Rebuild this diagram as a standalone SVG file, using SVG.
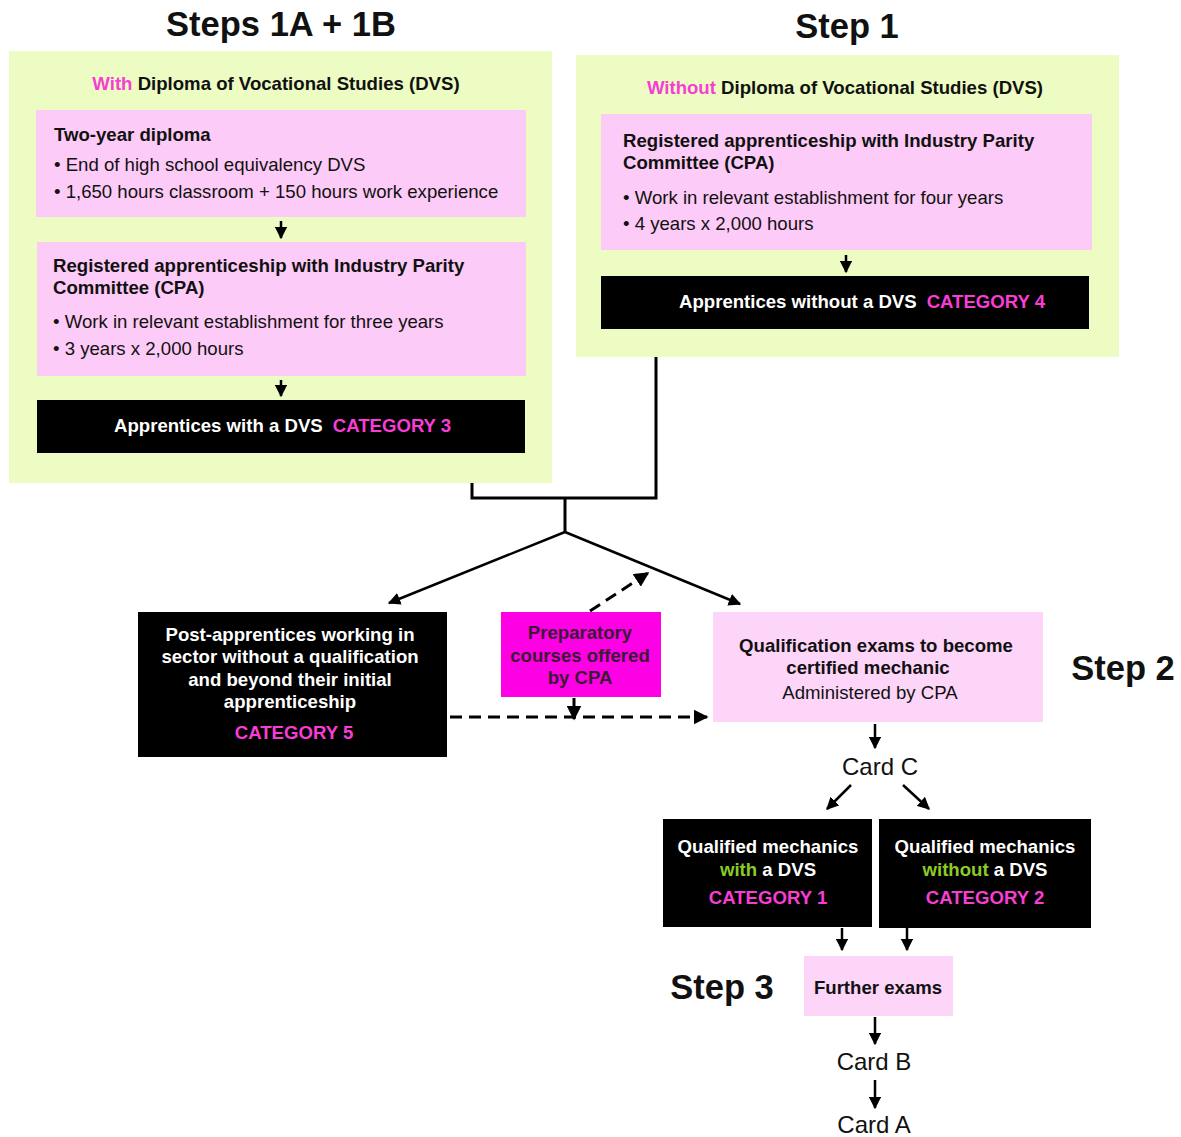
<svg xmlns="http://www.w3.org/2000/svg" width="1181" height="1137" viewBox="0 0 1181 1137">
<style>
text{font-family:"Liberation Sans",Arial,sans-serif;fill:#111}
.b{font-weight:bold}
.t{font-size:34.5px;font-weight:bold}
.m{font-size:18.6px}
.c{font-size:24px}
.w{fill:#fff}
.mg{fill:#f83dd6}
.gr{fill:#8ccb26}
.green{fill:#ecfcc2}
.pink{fill:#fdcbf7}
.pink2{fill:#fdd5f8}
.blk{fill:#000}
.ln{stroke:#000;stroke-width:2.5;fill:none}
.dl{stroke:#000;stroke-width:3;fill:none;stroke-dasharray:12 7}
</style>
<defs>
<marker id="ah" viewBox="0 0 10 10" refX="9" refY="5" markerWidth="5" markerHeight="5" orient="auto" markerUnits="strokeWidth"><path d="M0,0L10,5L0,10z" fill="#000"/></marker>
</defs>
<rect width="1181" height="1137" fill="#fff"/>
<text class="t" x="281" y="36" text-anchor="middle">Steps 1A + 1B</text>
<text class="t" x="847" y="38" text-anchor="middle">Step 1</text>
<text class="t" x="1123" y="680" text-anchor="middle">Step 2</text>
<text class="t" x="722" y="999" text-anchor="middle">Step 3</text>

<g id="left-group">
<rect class="green" x="9" y="51" width="543" height="432"/>
<text class="m b" x="276" y="90" text-anchor="middle"><tspan class="mg">With</tspan> Diploma of Vocational Studies (DVS)</text>
</g>
<g id="two-year">
<rect class="pink" x="36" y="110" width="490" height="107"/>
<text class="m b" x="54" y="141">Two-year diploma</text>
<text class="m" x="54" y="171">• End of high school equivalency DVS</text>
<text class="m" x="54" y="198">• 1,650 hours classroom + 150 hours work experience</text>
</g>
<g id="cpa-left">
<rect class="pink" x="37" y="242" width="489" height="134"/>
<text class="m b" x="53" y="272">Registered apprenticeship with Industry Parity</text>
<text class="m b" x="53" y="294">Committee (CPA)</text>
<text class="m" x="53" y="328">• Work in relevant establishment for three years</text>
<text class="m" x="53" y="355">• 3 years x 2,000 hours</text>
</g>
<g id="cat3">
<rect class="blk" x="37" y="400" width="488" height="53"/>
<text class="m b w" x="114" y="432">Apprentices with a DVS<tspan class="mg" dx="10">CATEGORY 3</tspan></text>
</g>

<g id="right-group">
<rect class="green" x="576" y="55" width="543" height="302"/>
<text class="m b" x="845" y="94" text-anchor="middle"><tspan class="mg">Without</tspan> Diploma of Vocational Studies (DVS)</text>
</g>
<g id="cpa-right">
<rect class="pink" x="601" y="114" width="491" height="136"/>
<text class="m b" x="623" y="147">Registered apprenticeship with Industry Parity</text>
<text class="m b" x="623" y="169">Committee (CPA)</text>
<text class="m" x="623" y="204">• Work in relevant establishment for four years</text>
<text class="m" x="623" y="230">• 4 years x 2,000 hours</text>
</g>
<g id="cat4">
<rect class="blk" x="601" y="276" width="488" height="53"/>
<text class="m b w" x="679" y="308">Apprentices without a DVS<tspan class="mg" dx="10">CATEGORY 4</tspan></text>
</g>

<g id="cat5">
<rect class="blk" x="138" y="612" width="309" height="145"/>
<text class="m b w" x="290" y="641" text-anchor="middle">Post-apprentices working in</text>
<text class="m b w" x="290" y="663" text-anchor="middle">sector without a qualification</text>
<text class="m b w" x="290" y="686" text-anchor="middle">and beyond their initial</text>
<text class="m b w" x="290" y="708" text-anchor="middle">apprenticeship</text>
<text class="m b mg" x="294" y="739" text-anchor="middle">CATEGORY 5</text>
</g>
<g id="prep">
<rect x="501" y="612" width="160" height="85" fill="#fe00e4"/>
<text class="m b" x="580" y="639" text-anchor="middle" style="fill:#3a1a35">Preparatory</text>
<text class="m b" x="580" y="662" text-anchor="middle" style="fill:#3a1a35">courses offered</text>
<text class="m b" x="580" y="684" text-anchor="middle" style="fill:#3a1a35">by CPA</text>
</g>
<g id="qual">
<rect class="pink2" x="713" y="612" width="330" height="110"/>
<text class="m b" x="876" y="652" text-anchor="middle">Qualification exams to become</text>
<text class="m b" x="868" y="674" text-anchor="middle">certified mechanic</text>
<text class="m" x="870" y="699" text-anchor="middle">Administered by CPA</text>
</g>
<g id="cardc"><text class="c" x="880" y="775" text-anchor="middle">Card C</text></g>
<g id="cat1">
<rect class="blk" x="663" y="819" width="209" height="108"/>
<text class="m b w" x="768" y="853" text-anchor="middle">Qualified mechanics</text>
<text class="m b w" x="768" y="876" text-anchor="middle"><tspan class="gr">with</tspan> a DVS</text>
<text class="m b mg" x="768" y="904" text-anchor="middle">CATEGORY 1</text>
</g>
<g id="cat2">
<rect class="blk" x="879" y="819" width="212" height="109"/>
<text class="m b w" x="985" y="853" text-anchor="middle">Qualified mechanics</text>
<text class="m b w" x="985" y="876" text-anchor="middle"><tspan class="gr">without</tspan> a DVS</text>
<text class="m b mg" x="985" y="904" text-anchor="middle">CATEGORY 2</text>
</g>
<g id="further">
<rect class="pink2" x="804" y="956" width="149" height="60"/>
<text class="m b" x="878" y="994" text-anchor="middle">Further exams</text>
</g>
<g id="cardb"><text class="c" x="874" y="1070" text-anchor="middle">Card B</text></g>
<g id="carda"><text class="c" x="874" y="1133" text-anchor="middle">Card A</text></g>

<g id="connectors">
<line class="ln" x1="281" y1="221" x2="281" y2="238" marker-end="url(#ah)"/>
<line class="ln" x1="281" y1="380" x2="281" y2="396" marker-end="url(#ah)"/>
<line class="ln" x1="846" y1="255" x2="846" y2="272" marker-end="url(#ah)"/>
<path d="M472,483V498H656V357" stroke="#000" stroke-width="3" fill="none"/>
<path d="M565,498V532" stroke="#000" stroke-width="3" fill="none"/>
<line class="ln" x1="565" y1="532" x2="389" y2="603" marker-end="url(#ah)"/>
<line class="ln" x1="565" y1="532" x2="740" y2="604" marker-end="url(#ah)"/>
<line class="dl" x1="590" y1="611" x2="648" y2="573" marker-end="url(#ah)"/>
<line class="dl" x1="450" y1="717" x2="707" y2="717" marker-end="url(#ah)"/>
<line class="dl" x1="574" y1="698" x2="574" y2="719" marker-end="url(#ah)" stroke-dasharray="6 4"/>
<line class="ln" x1="875" y1="724" x2="875" y2="748" marker-end="url(#ah)"/>
<line class="ln" x1="851" y1="785" x2="827" y2="809" marker-end="url(#ah)"/>
<line class="ln" x1="903" y1="785" x2="929" y2="809" marker-end="url(#ah)"/>
<line class="ln" x1="842" y1="928" x2="842" y2="950" marker-end="url(#ah)"/>
<line class="ln" x1="907" y1="928" x2="907" y2="950" marker-end="url(#ah)"/>
<line class="ln" x1="875" y1="1017" x2="875" y2="1044" marker-end="url(#ah)"/>
<line class="ln" x1="875" y1="1080" x2="875" y2="1108" marker-end="url(#ah)"/>
</g>
</svg>
